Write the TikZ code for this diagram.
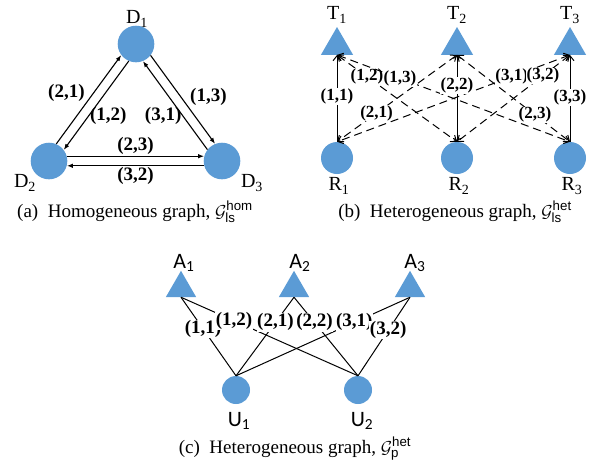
\documentclass[tikz,border=0pt]{standalone}
\usepackage{fontspec}
\setmainfont{Liberation Serif}
\setsansfont{Liberation Sans}
\newfontfamily\calfont{Carlito}
\usetikzlibrary{arrows.meta,shapes.geometric}
\definecolor{nodeclr}{RGB}{91,155,213}
\tikzset{
  dev/.style={circle,fill=nodeclr,minimum size=36.6pt,inner sep=0pt},
  rxnode/.style={dev,minimum size=32pt},
  usrnode/.style={dev,minimum size=28pt},
  txnode/.style={regular polygon,regular polygon sides=3,fill=nodeclr,
    minimum size=37pt,inner sep=0pt},
  apnode/.style={txnode,minimum size=35pt},
  nodetxt/.style={font=\fontsize{20}{20}\selectfont,inner sep=0pt},
  sfnodetxt/.style={font=\calfont\fontsize{22}{22}\selectfont,inner sep=0pt},
  lbl/.style={font=\bfseries\fontsize{19}{19}\selectfont,inner sep=1pt},
  slbl/.style={lbl,font=\bfseries\fontsize{17}{17}\selectfont,fill=white,inner sep=0.5pt},
  wlbl/.style={lbl,fill=white,inner sep=0.5pt},
  arr/.style={-{Latex[length=6pt,width=4.5pt]},line width=1.1pt},
  parr/.style={-{Straight Barb[length=5pt,width=8pt]},line width=1pt},
  dparr/.style={{Straight Barb[length=5pt,width=8pt]}-{Straight Barb[length=5pt,width=8pt]},
    line width=1pt,dash pattern=on 8pt off 5pt},
  link/.style={line width=1pt},
  captxt/.style={font=\fontsize{19}{19}\selectfont,anchor=base},
}

\begin{document}
\begin{tikzpicture}[x=1pt,y=-1pt]
  \useasboundingbox (0,0) rectangle (593,474);

  % (a) homogeneous graph
  \node[dev] (d1) at (136,44)  {};
  \node[dev] (d2) at (49,161)  {};
  \node[dev] (d3) at (222,161) {};
  \node[nodetxt] (d1txt) at (137,19)  {D\textsubscript{1}};
  \node[nodetxt] (d2txt) at (25,183)  {D\textsubscript{2}};
  \node[nodetxt] (d3txt) at (252,183) {D\textsubscript{3}};

  \draw[arr] (d2.67.7)  -- node[lbl,anchor=south east,pos=.46]{(2,1)} (d1.217.7);
  \draw[arr] (d1.247.7) -- node[lbl,anchor=west,pos=.62]{(1,2)} (d2.37.7);
  \draw[arr] (d1.-38)   -- node[lbl,anchor=south west,pos=.59]{(1,3)} (d3.112);
  \draw[arr] (d3.142)   -- node[lbl,anchor=east,pos=.38]{(3,1)} (d1.-68);
  \draw[arr] (d2.15)    -- node[lbl,above]{(2,3)} (d3.165);
  \draw[arr] (d3.195)   -- node[lbl,below]{(3,2)} (d2.-15);

  \node[captxt] (capa) at (135,217)
    {(a)\ \ Homogeneous graph, $\mathcal{G}_{\mathsf{ls}}^{\mathsf{hom}}$};

  % (b) heterogeneous graph, ls
  \node[txnode] (t1) at (337,45.5) {};
  \node[txnode] (t2) at (457,45.5) {};
  \node[txnode] (t3) at (570,45.5) {};
  \node[rxnode] (r1) at (337,158) {};
  \node[rxnode] (r2) at (457,158) {};
  \node[rxnode] (r3) at (570,158) {};
  \node[nodetxt] (t1txt) at (337,15)  {T\textsubscript{1}};
  \node[nodetxt] (t2txt) at (457,15)  {T\textsubscript{2}};
  \node[nodetxt] (t3txt) at (570,15)  {T\textsubscript{3}};
  \node[nodetxt] (r1txt) at (339,186) {R\textsubscript{1}};
  \node[nodetxt] (r2txt) at (459,186) {R\textsubscript{2}};
  \node[nodetxt] (r3txt) at (572,186) {R\textsubscript{3}};

  \draw[dparr] (t2.south) -- node[slbl,pos=.67]{(2,1)} (r1.north);
  \draw[dparr] (t2.south) -- node[slbl,pos=.69]{(2,3)} (r3.north);
  \draw[dparr] (t1.south) -- node[slbl,pos=.25]{(1,2)} (r2.north);
  \draw[dparr] (t1.south) -- node[slbl,pos=.27]{(1,3)} (r3.north);
  \draw[dparr] (t3.south) -- node[slbl,pos=.25]{(3,1)} (r1.north);
  \draw[dparr] (t3.south) -- node[slbl,pos=.24]{(3,2)} (r2.north);
  \draw[parr] (r1.north) -- node[slbl,pos=.52]{(1,1)} (t1.south);
  \draw[parr,<->] (r2.north) -- node[slbl,pos=.65]{(2,2)} (t2.south);
  \draw[parr] (r3.north) -- node[slbl,pos=.51]{(3,3)} (t3.south);

  \node[captxt] (capb) at (455,217)
    {(b)\ \ Heterogeneous graph, $\mathcal{G}_{\mathsf{ls}}^{\mathsf{het}}$};

  % (c) heterogeneous graph, p
  \node[apnode] (a1) at (181,288.3) {};
  \node[apnode] (a2) at (294,288.3) {};
  \node[apnode] (a3) at (410,288.3) {};
  \node[usrnode] (u1) at (236,390) {};
  \node[usrnode] (u2) at (358,390) {};
  \node[sfnodetxt] (a1txt) at (184,263) {A\textsubscript{1}};
  \node[sfnodetxt] (a2txt) at (300,263) {A\textsubscript{2}};
  \node[sfnodetxt] (a3txt) at (415,263) {A\textsubscript{3}};
  \node[sfnodetxt] (u1txt) at (239,421) {U\textsubscript{1}};
  \node[sfnodetxt] (u2txt) at (362,421) {U\textsubscript{2}};

  \draw[link] (a1.south) -- node[wlbl,pos=.4]{(1,1)} (u1.north);
  \draw[link] (a3.south) -- node[wlbl,pos=.32]{(3,1)} (u1.north);
  \draw[link] (a1.south) -- node[wlbl,pos=.3]{(1,2)} (u2.north);
  \draw[link] (a2.south) -- node[wlbl,pos=.32]{(2,1)} (u1.north);
  \draw[link] (a2.south) -- node[wlbl,pos=.32]{(2,2)} (u2.north);
  \draw[link] (a3.south) -- node[wlbl,pos=.42]{(3,2)} (u2.north);

  \node[captxt] (capc) at (295,453)
    {(c)\ \ Heterogeneous graph, $\mathcal{G}_{\mathsf{p}}^{\mathsf{het}}$};
\end{tikzpicture}
\end{document}
